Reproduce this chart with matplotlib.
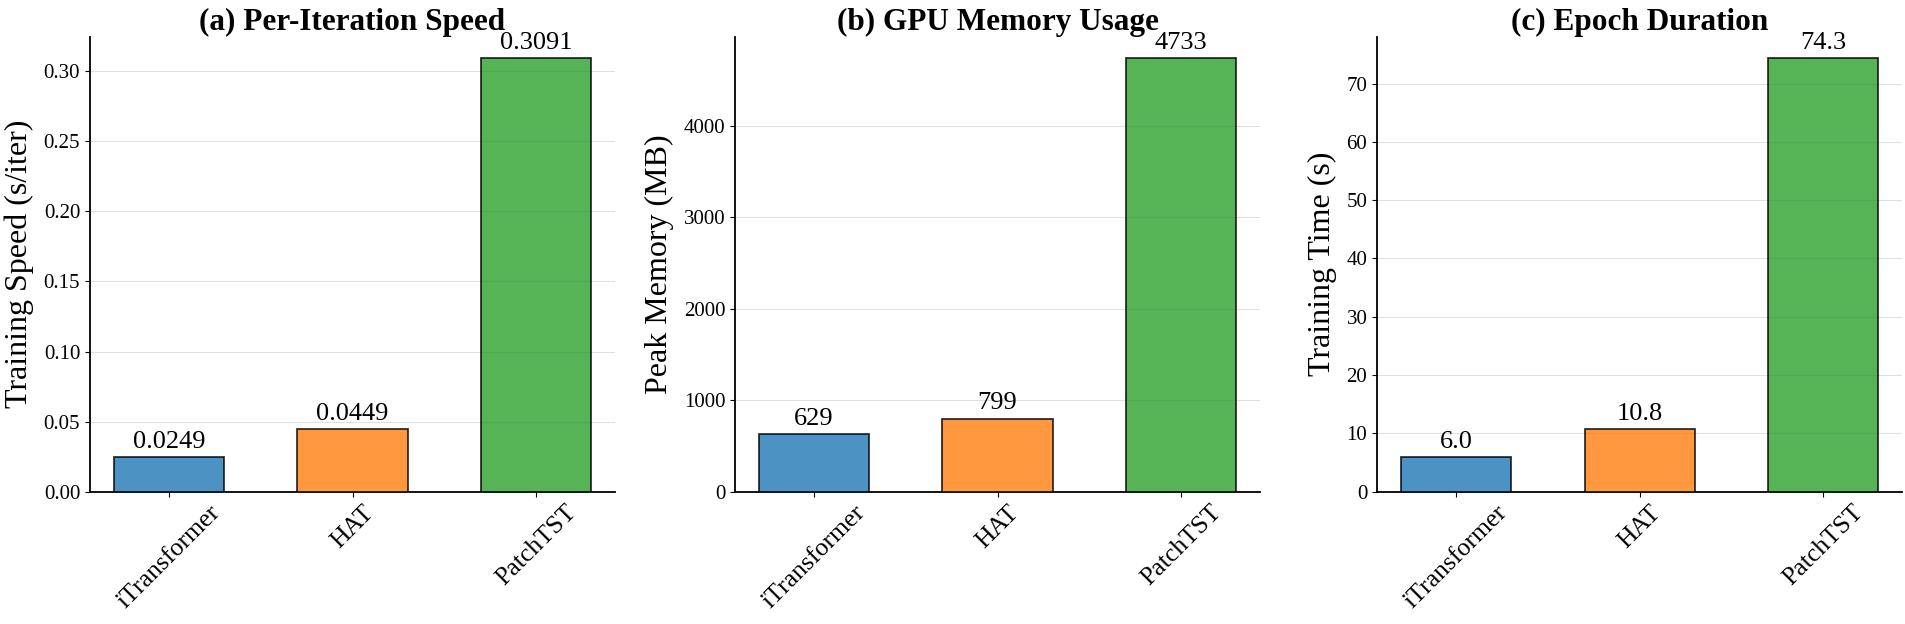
import numpy as np
import matplotlib
matplotlib.use('Agg')
import matplotlib.pyplot as plt

plt.rcParams['font.family'] = ['Liberation Serif', 'DejaVu Serif']
plt.rcParams['mathtext.fontset'] = 'stix'

# datos
models = ['iTransformer', 'HAT', 'PatchTST']
speed = [0.0249, 0.0449, 0.3091]
memory = [629, 799, 4733]
epoch_time = [6.0, 10.8, 74.3]
colors = ['#1f77b4', '#ff7f0e', '#2ca02c']

panels = [
    ('(a) Per-Iteration Speed', 'Training Speed (s/iter)', speed, '{:.4f}'),
    ('(b) GPU Memory Usage', 'Peak Memory (MB)', memory, '{:d}'),
    ('(c) Epoch Duration', 'Training Time (s)', epoch_time, '{:.1f}'),
]

fig = plt.figure(figsize=(19.06, 6.24), dpi=100)
lefts = [0.0472, 0.3856, 0.7225]
x = np.arange(len(models))

for left, (title, ylabel, vals, fmt) in zip(lefts, panels):
    ax = fig.add_axes([left, 0.212, 0.2755, 0.729])
    bars = ax.bar(x, vals, width=0.6, color=colors, alpha=0.8,
                  edgecolor='black', linewidth=1.3, zorder=3)
    for b, v in zip(bars, vals):
        ax.annotate(fmt.format(v), (b.get_x() + b.get_width() / 2, b.get_height()),
                    xytext=(0, 3), textcoords='offset points',
                    ha='center', va='bottom', fontsize=19)
    ax.set_ylim(0, max(vals) * 1.05)
    ax.set_xticks(x)
    ax.set_xticklabels(models, rotation=45, fontsize=18.5)
    ax.tick_params(axis='y', labelsize=15)
    ax.set_ylabel(ylabel, fontsize=23, labelpad=7)
    ax.set_title(title, fontsize=22.5, fontweight='bold', pad=-1)
    ax.yaxis.grid(True, color='#cccccc', alpha=0.6, linewidth=0.8, zorder=0)
    ax.set_axisbelow(True)
    ax.spines['top'].set_visible(False)
    ax.spines['right'].set_visible(False)
    ax.spines['left'].set_linewidth(1.3)
    ax.spines['bottom'].set_linewidth(1.3)

fig.savefig('out.png', dpi=100)
